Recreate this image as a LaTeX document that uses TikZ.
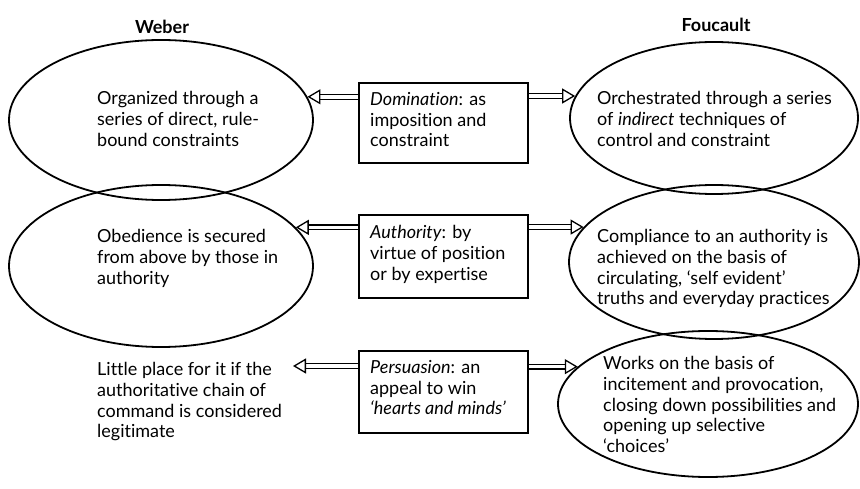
\documentclass[tikz,border=0pt]{standalone}
\usepackage{fontspec}
\setmainfont{Lato}[Ligatures=NoCommon]
\usetikzlibrary{shapes.geometric,arrows.meta}
\begin{document}
\begin{tikzpicture}[x=1pt,y=-1pt,
  oval/.style={draw,ellipse,line width=1.8pt,inner sep=0pt},
  frame/.style={draw,rectangle,line width=2.2pt,inner sep=0pt,anchor=north west},
  body/.style={anchor=north west,inner sep=0pt,align=left,font=\fontsize{18}{20.8}\selectfont},
  head/.style={font=\fontsize{18}{20}\selectfont\bfseries},
  dbl/.style={double,double distance=3.6pt,line width=1.3pt,
    -{Triangle[open,length=13pt,width=15pt,line width=1.3pt]}}]
\useasboundingbox (0,0) rectangle (860,489);

% column headings
\node[head] (hw) at (162,27) {Weber};
\node[head] (hf) at (716,25) {Foucault};

% Weber column
\node[oval,minimum width=304pt,minimum height=160pt] (l1) at (161,120) {};
\node[oval,minimum width=304pt,minimum height=162pt] (l2) at (161,266) {};
\node[body] (tl1) at (97,91) {Organized through a\\series of direct, rule-\\bound constraints};
\node[body] (tl2) at (97,229) {Obedience is secured\\from above by those in\\authority};
\node[body] (tl3) at (97,362) {Little place for it if the\\authoritative chain of\\command is considered\\legitimate};

% Foucault column
\node[oval,minimum width=288pt,minimum height=152pt] (r1) at (714,118) {};
\node[oval,minimum width=290pt,minimum height=154pt] (r2) at (714,262) {};
\node[oval,minimum width=300pt,minimum height=146pt] (r3) at (708,404) {};
\node[body] (tr1) at (597,91) {Orchestrated through a series\\of \emph{indirect} techniques of\\control and constraint};
\node[body] (tr2) at (597,229) {Compliance to an authority is\\achieved on the basis of\\circulating, `self evident'\\truths and everyday practices};
\node[body] (tr3) at (603,356) {Works on the basis of\\incitement and provocation,\\closing down possibilities and\\opening up selective\\`choices'};

% middle boxes
\node[frame,minimum width=169pt,minimum height=80pt] (b1) at (358,82) {};
\node[frame,minimum width=169pt,minimum height=83pt] (b2) at (358,214) {};
\node[frame,minimum width=169pt,minimum height=82pt] (b3) at (358,350) {};
\node[body] (tb1) at (370,92) {\emph{Domination}: as\\imposition and\\constraint};
\node[body] (tb2) at (370,225) {\emph{Authority}: by\\virtue of position\\or by expertise};
\node[body] (tb3) at (370,360) {\emph{Persuasion}: an\\appeal to win\\\emph{`hearts and minds'}};

% free end of the lower left arrow
\coordinate (p3) at (293,366);

% connectors
\draw[dbl] (b1.west |- l1.9) -- (l1.9);
\draw[dbl] (b1.east |- r1.171) -- (r1.171);
\draw[dbl] (b2.west |- l2.16) -- (l2.16);
\draw[dbl] (b2.east |- r2.165) -- (r2.165);
\draw[dbl] (b3.west |- p3) -- (p3);
\draw[dbl] (b3.east |- r3.164) -- (r3.164);
\end{tikzpicture}
\end{document}
